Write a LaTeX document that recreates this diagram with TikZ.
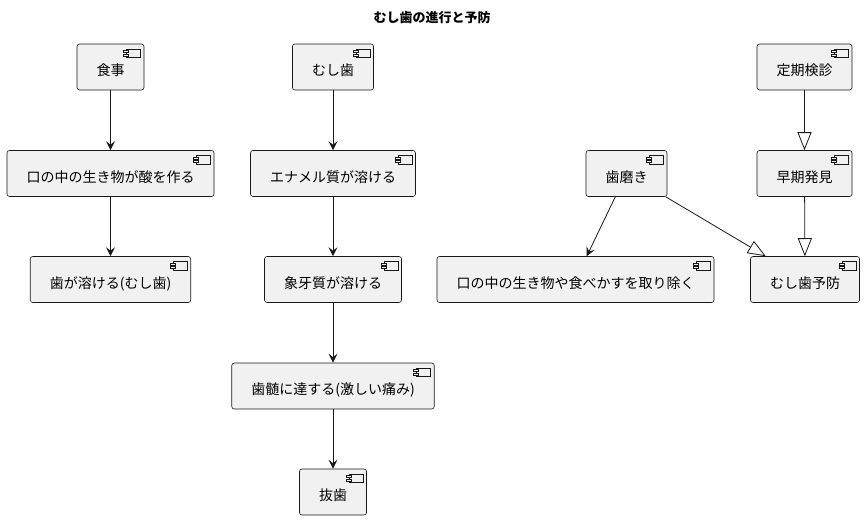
\documentclass[tikz,border=0pt]{standalone}
\usepackage{fontspec}
\setmainfont{Noto Sans CJK JP}
\usetikzlibrary{arrows.meta}
\definecolor{boxfill}{HTML}{F1F1F1}
\definecolor{linec}{HTML}{181818}

\begin{document}
\begin{tikzpicture}[x=1pt,y=-1pt,
  block/.style={rectangle,draw=linec,line width=0.6pt,fill=boxfill,rounded corners=2.5pt,
    minimum height=46pt,inner xsep=19.5pt,text height=19pt,text depth=2pt,
    font=\fontsize{14pt}{16pt}\selectfont,
    path picture={
      \draw[sharp corners,line width=0.5pt,draw=linec,fill=boxfill]
        ([xshift=-17.5pt,yshift=-5pt]path picture bounding box.north east) rectangle ++(14pt,-8.5pt);
      \draw[sharp corners,line width=0.5pt,draw=linec,fill=boxfill]
        ([xshift=-20.5pt,yshift=-6.5pt]path picture bounding box.north east) rectangle ++(5pt,-2pt);
      \draw[sharp corners,line width=0.5pt,draw=linec,fill=boxfill]
        ([xshift=-20.5pt,yshift=-10pt]path picture bounding box.north east) rectangle ++(5pt,-2pt);
    }},
  flow/.style={draw=linec,line width=0.8pt,-{Stealth[length=9pt,width=9pt,inset=3.5pt]}},
  realize/.style={draw=linec,line width=0.8pt,-{Triangle[open,length=18pt,width=14pt,fill=white]}}]
\useasboundingbox (0,0) rectangle (864,520);
\node[font=\bfseries\fontsize{13pt}{15pt}\selectfont] (title) at (432,18) {むし歯の進行と予防};

% left column
\node[block] (meal)  at (110.5,67)    {食事};
\node[block] (acid)  at (110.5,173.5) {口の中の生き物が酸を作る};
\node[block] (melt)  at (110.5,279.5) {歯が溶ける(むし歯)};

% middle column
\node[block] (caries)  at (333,67)    {むし歯};
\node[block] (enamel)  at (333,173.5) {エナメル質が溶ける};
\node[block] (dentin)  at (333,279.5) {象牙質が溶ける};
\node[block] (pulp)    at (333,386)   {歯髄に達する(激しい痛み)};
\node[block] (extract) at (333,492)   {抜歯};

% prevention
\node[block] (checkup) at (804.5,67)    {定期検診};
\node[block] (early)   at (804.5,173.5) {早期発見};
\node[block] (brush)   at (626.5,173.5) {歯磨き};
\node[block] (remove)  at (575.5,279.5) {口の中の生き物や食べかすを取り除く};
\node[block] (prevent) at (805,279.5)   {むし歯予防};

\draw[flow] (meal) -- (acid);
\draw[flow] (acid) -- (melt);
\draw[flow] (caries) -- (enamel);
\draw[flow] (enamel) -- (dentin);
\draw[flow] (dentin) -- (pulp);
\draw[flow] (pulp) -- (extract);
\draw[flow] (brush) -- (remove);
\draw[realize] (brush) -- (prevent);
\draw[realize] (checkup) -- (early);
\draw[realize] (early) -- (prevent);
\end{tikzpicture}
\end{document}
